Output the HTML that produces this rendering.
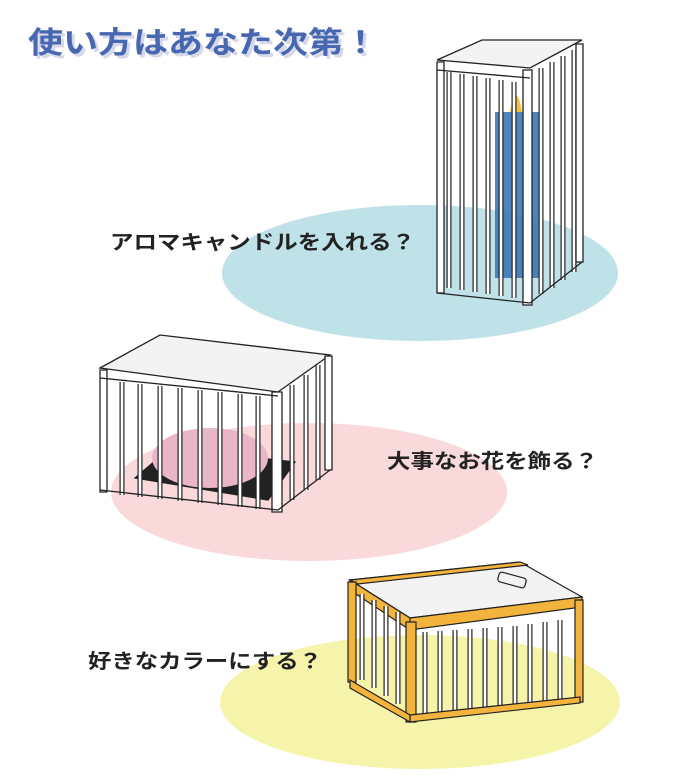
<!DOCTYPE html>
<html><head><meta charset="utf-8"><style>
body{margin:0;background:#fff;}
svg{display:block}
text{font-family:"Liberation Sans","Noto Sans CJK JP",sans-serif;font-weight:bold}
.b{fill:none;stroke:#222;stroke-width:5}
.w{fill:none;stroke:#fff;stroke-width:2.6}
</style></head><body>
<svg width="700" height="775" viewBox="0 0 700 775">
<defs>
<path id="b1" d="M449 72 V288 M462 74 V290 M475 76 V292 M488 78 V294 M501 80 V296 M514 82 V298 M541 68 V294 M552 62 V288 M563 56 V280 M574 50 V272"/>
<path id="b2" d="M122 382 V495 M140 384 V497 M160 386 V499 M180 388 V501 M200 390 V503 M220 392 V505 M240 394 V507 M258 396 V509 M292 385 V500 M306 375 V490 M318 365 V480"/>
<path id="b3" d="M425 632 V715 M440 631 V714 M455 630 V713 M470 629 V712 M485 628 V711 M500 627 V710 M515 626 V709 M530 624 V707 M545 622 V705 M560 620 V703 M362 594 V680 M374 600 V688 M386 606 V696 M398 612 V704"/>
</defs>
<ellipse cx="420" cy="273" rx="198" ry="68" fill="#bfe1e8"/>
<ellipse cx="309" cy="492" rx="198" ry="69" fill="#f9d9d9"/>
<ellipse cx="420" cy="702" rx="200" ry="67" fill="#f6f3aa"/>

<text x="31" y="56" font-size="30" fill="#d6d8ea" textLength="350" lengthAdjust="spacingAndGlyphs">使い方はあなた次第！</text>
<text x="28" y="53" font-size="30" fill="#4767b0" textLength="350" lengthAdjust="spacingAndGlyphs">使い方はあなた次第！</text>

<!-- cage 1 -->
<g stroke="#222" stroke-width="1.3" fill="#fff">
<polygon points="437,60 482,40 582,40 530,68" fill="#f3f3f3"/>
<rect x="495" y="112" width="45" height="166" fill="#3a78b8" stroke="none" opacity="0.9"/>
<path d="M510 112 Q516 78 522 112 Z" fill="#f2c03a" stroke="none"/>
<use href="#b1" class="b"/><use href="#b1" class="w"/>
<polygon points="437,62 444,62 444,293 437,293"/>
<polygon points="523,70 532,70 532,305 523,305"/>
<polygon points="576,44 583,44 583,262 576,262"/>
<line x1="437" y1="293" x2="530" y2="303"/>
<line x1="530" y1="303" x2="582" y2="262"/>
<line x1="437" y1="70" x2="530" y2="78"/>
</g>
<text x="110" y="249" font-size="20" fill="#222" textLength="305" lengthAdjust="spacingAndGlyphs">アロマキャンドルを入れる？</text>

<!-- cage 2 -->
<g stroke="#222" stroke-width="1.3" fill="#fff">
<polygon points="100,368 160,335 330,355 278,392" fill="#f3f3f3"/>
<polygon points="135,478 170,448 295,462 268,500" fill="#222"/>
<ellipse cx="210" cy="458" rx="58" ry="30" fill="#e9b6c9" stroke="none"/>
<use href="#b2" class="b"/><use href="#b2" class="w"/>
<polygon points="100,370 107,370 107,492 100,492"/>
<polygon points="272,392 282,392 282,512 272,512"/>
<polygon points="325,356 332,356 332,470 325,470"/>
<line x1="100" y1="378" x2="278" y2="396"/>
<line x1="100" y1="490" x2="278" y2="510"/>
<line x1="278" y1="510" x2="330" y2="470"/>
</g>
<text x="387" y="468" font-size="20" fill="#222" textLength="211" lengthAdjust="spacingAndGlyphs">大事なお花を飾る？</text>

<!-- cage 3 -->
<g stroke="#222" stroke-width="1.2">
<polygon points="350,580 520,562 582,597 410,618" fill="#f3f3f3"/>
<polygon points="350,580 410,618 410,630 350,590" fill="#f2b43c"/>
<polygon points="410,618 582,597 582,607 410,630" fill="#f2b43c"/>
<polygon points="350,580 520,562 528,565 358,584" fill="#f2b43c"/>
<use href="#b3" class="b"/><use href="#b3" class="w"/>
<polygon points="406,622 416,622 416,722 406,722" fill="#f2b43c"/>
<polygon points="348,582 356,582 356,682 348,682" fill="#f2b43c"/>
<polygon points="575,600 583,600 583,702 575,702" fill="#f2b43c"/>
<polygon points="410,715 580,697 580,703 410,722" fill="#f2b43c"/>
<polygon points="350,680 410,715 410,722 350,688" fill="#f2b43c"/>
<rect x="498" y="575" width="28" height="10" rx="3" fill="none" transform="rotate(15 512 580)"/>
</g>
<text x="88" y="668" font-size="20" fill="#222" textLength="234" lengthAdjust="spacingAndGlyphs">好きなカラーにする？</text>
</svg>
</body></html>
